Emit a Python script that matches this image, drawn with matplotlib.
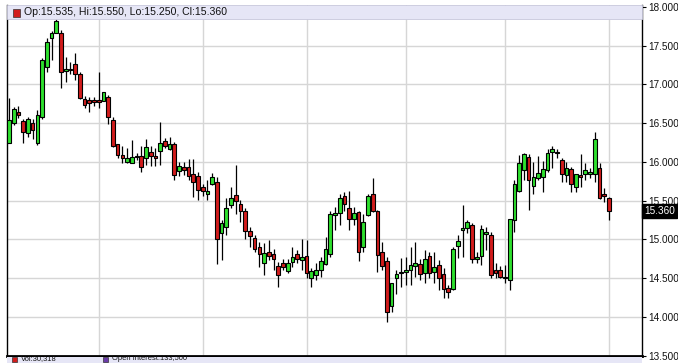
import matplotlib
matplotlib.use("Agg")
import matplotlib.pyplot as plt
from matplotlib.patches import Rectangle
import numpy as np

# daily OHLC (oldest first)
opens = [16.25, 16.50, 16.65, 16.53, 16.37, 16.50, 16.25, 16.58, 17.23, 17.60,
         17.67, 17.67, 17.17, 17.20, 17.26, 17.13, 16.81, 16.80, 16.80, 16.80,
         16.79, 16.84, 16.54, 16.23, 16.09, 16.00, 15.99, 16.08, 16.08, 16.05,
         16.13, 16.07, 16.14, 16.27, 16.17, 16.23, 15.88, 15.93, 15.93, 15.85,
         15.82, 15.68, 15.59, 15.72, 15.74, 15.08, 15.16, 15.44, 15.57, 15.45,
         15.36, 15.11, 15.02, 14.90, 14.69, 14.84, 14.81, 14.65, 14.69, 14.59,
         14.71, 14.81, 14.73, 14.78, 14.50, 14.54, 14.60, 14.68, 14.81, 15.31,
         15.34, 15.56, 15.41, 15.26, 15.35, 14.90, 15.31, 15.59, 15.37, 14.83,
         14.72, 14.14, 14.50, 14.57, 14.58, 14.61, 14.65, 14.68, 14.56, 14.79,
         14.58, 14.67, 14.55, 14.37, 14.36, 14.92, 15.12, 15.15, 15.18, 14.75,
         14.78, 15.07, 15.06, 14.60, 14.60, 14.51, 14.48, 15.25, 15.62, 15.89,
         16.06, 15.69, 15.79, 15.81, 15.90, 16.13, 16.13, 16.02, 15.83, 15.91,
         15.68, 15.83, 15.84, 15.84, 15.85, 15.92, 15.59, 15.535]
highs = [16.82, 16.71, 16.72, 16.56, 16.58, 16.55, 16.67, 17.34, 17.60, 17.69,
         17.84, 17.70, 17.35, 17.29, 17.40, 17.16, 16.85, 16.84, 16.84, 17.16,
         16.90, 16.86, 16.58, 16.23, 16.20, 16.18, 16.28, 16.12, 16.20, 16.29,
         16.20, 16.18, 16.51, 16.31, 16.32, 16.26, 16.00, 16.00, 16.04, 16.04,
         15.87, 15.71, 15.76, 15.86, 15.81, 15.25, 15.53, 15.68, 15.96, 15.51,
         15.40, 15.16, 15.05, 14.97, 14.95, 14.99, 14.88, 14.71, 14.75, 14.75,
         14.90, 14.86, 15.01, 14.99, 14.63, 14.69, 14.77, 15.03, 15.36, 15.42,
         15.59, 15.61, 15.63, 15.42, 15.36, 15.33, 15.59, 15.79, 15.38, 14.97,
         14.77, 14.44, 14.60, 14.76, 14.77, 14.90, 14.96, 14.74, 14.86, 14.84,
         14.84, 14.73, 14.63, 14.41, 14.90, 15.05, 15.44, 15.25, 15.21, 14.83,
         15.18, 15.16, 15.10, 14.69, 14.65, 14.67, 15.26, 15.76, 16.09, 16.11,
         16.10, 16.00, 16.07, 16.01, 16.17, 16.21, 16.17, 16.05, 16.00, 15.94,
         15.85, 16.10, 15.98, 15.92, 16.38, 15.99, 15.66, 15.55]
lows = [16.24, 16.48, 16.57, 16.25, 16.32, 16.30, 16.22, 16.56, 17.16, 17.32,
        17.66, 16.96, 17.03, 17.13, 17.06, 16.81, 16.70, 16.65, 16.72, 16.69,
        16.78, 16.49, 16.19, 16.05, 15.99, 15.98, 15.98, 16.02, 15.87, 15.96,
        15.95, 15.95, 15.96, 16.18, 16.15, 15.76, 15.82, 15.83, 15.76, 15.55,
        15.51, 15.56, 15.51, 15.70, 14.68, 14.73, 15.05, 15.40, 15.33, 15.23,
        15.01, 14.90, 14.83, 14.64, 14.54, 14.73, 14.60, 14.39, 14.60, 14.56,
        14.64, 14.69, 14.60, 14.50, 14.39, 14.47, 14.51, 14.67, 14.77, 15.12,
        15.18, 15.36, 15.12, 15.18, 14.72, 14.84, 15.30, 15.35, 14.58, 14.60,
        13.93, 14.06, 14.30, 14.39, 14.41, 14.41, 14.52, 14.47, 14.43, 14.50,
        14.43, 14.34, 14.24, 14.24, 14.34, 14.76, 14.77, 15.08, 14.69, 14.69,
        14.67, 14.86, 14.50, 14.50, 14.50, 14.43, 14.35, 15.10, 15.61, 15.76,
        15.38, 15.58, 15.77, 15.61, 15.87, 15.92, 16.05, 15.74, 15.74, 15.61,
        15.61, 15.68, 15.77, 15.79, 15.74, 15.52, 15.48, 15.25]
closes = [16.54, 16.68, 16.60, 16.38, 16.55, 16.41, 16.60, 17.32, 17.55, 17.66,
          17.82, 17.16, 17.20, 17.19, 17.14, 16.83, 16.73, 16.76, 16.77, 16.77,
          16.90, 16.58, 16.20, 16.09, 16.05, 16.05, 16.06, 16.06, 15.93, 16.19,
          16.07, 16.05, 16.25, 16.20, 16.23, 15.83, 15.95, 15.89, 15.82, 15.74,
          15.64, 15.63, 15.63, 15.81, 15.01, 15.21, 15.41, 15.53, 15.50, 15.36,
          15.11, 15.04, 14.88, 14.81, 14.82, 14.78, 14.75, 14.54, 14.64, 14.70,
          14.77, 14.74, 14.77, 14.56, 14.59, 14.61, 14.72, 14.87, 15.33, 15.34,
          15.53, 15.45, 15.26, 15.34, 14.84, 15.23, 15.56, 15.36, 14.80, 14.65,
          14.06, 14.43, 14.55, 14.58, 14.61, 14.67, 14.70, 14.55, 14.74, 14.57,
          14.64, 14.50, 14.36, 14.32, 14.88, 14.98, 15.15, 15.22, 14.75, 14.77,
          15.13, 15.10, 14.54, 14.56, 14.51, 14.50, 15.26, 15.71, 15.98, 16.10,
          15.77, 15.81, 15.86, 15.91, 16.12, 16.17, 16.11, 15.84, 15.92, 15.71,
          15.84, 15.81, 15.90, 15.87, 16.30, 15.54, 15.56, 15.36]

month_starts = [19, 41, 63, 84, 105, 127]   # bars where the vertical grid sits
price_ticks = np.arange(13.5, 18.01, 0.5)
legend_text = "Op:15.535, Hi:15.550, Lo:15.250, Cl:15.360"
bottom_text = ["Vol:30,318", "Open Interest:133,500"]

W, H = 678, 363
fig = plt.figure(figsize=(W / 100, H / 100), dpi=100)
fig.patch.set_facecolor("white")

# axes placed in pixels: left 7, right 642, top 5, bottom 355.5
ax = fig.add_axes([7 / W, (H - 355.5) / H, 635 / W, 350.5 / H])
n = len(opens)
x = np.arange(n)
step = 4.724  # px per bar
ax.set_xlim(-2 / step, (642 - 9) / step)
ax.set_ylim(13.5, 18.0 + 2 / 77.4)

for p in price_ticks:
    ax.axhline(p, color="#d6d6d6", lw=1.0, zorder=0)
for m in month_starts:
    ax.axvline(m, color="#d6d6d6", lw=1.0, zorder=0)

o = np.array(opens)
c = np.array(closes)
up = c >= o
ax.vlines(x, lows, highs, color="black", lw=0.9, zorder=2)
body_lo = np.minimum(o, c)
body_h = np.maximum(np.abs(c - o), 0.012)
colors = np.where(up, "#2ee02e", "#d21c1c")
ax.bar(x, body_h, bottom=body_lo, width=0.78, color=colors,
       edgecolor="black", linewidth=0.8, zorder=3)

ax.yaxis.tick_right()
ax.set_yticks(price_ticks)
ax.set_yticklabels(["%.3f" % p for p in price_ticks],
                   fontsize=7.2, family="Liberation Sans", color="#111111")
ax.tick_params(axis="y", direction="out", length=3, width=0.8, pad=1.2)
ax.set_xticks([])

ax.spines["top"].set_visible(False)
ax.spines["left"].set_color("black")
ax.spines["right"].set_color("black")
ax.spines["left"].set_linewidth(1.0)
ax.spines["right"].set_linewidth(1.0)
ax.spines["bottom"].set_linewidth(2.0)
ax.spines["bottom"].set_color("black")

# legend band across the top of the plot
band_h = 14 / 350.5
ax.add_patch(Rectangle((0, 1 - band_h), 1, band_h, transform=ax.transAxes,
                       facecolor="#e6e6f6", edgecolor="#c8c8dc", lw=0.6,
                       zorder=5, clip_on=False))
ax.add_patch(Rectangle((6 / 635, 1 - 12 / 350.5), 7 / 635, 8 / 350.5,
                       transform=ax.transAxes, facecolor="#d21c1c",
                       edgecolor="#333333", lw=0.5, zorder=6, clip_on=False))
ax.text(17 / 635, 1 - 7 / 350.5, legend_text, transform=ax.transAxes,
        fontsize=7.6, family="Liberation Sans", va="center", ha="left",
        color="#111111", zorder=6)

# last price marker on the axis
last = closes[-1]
fig.text(644 / W, (H - 211.3) / H, "%.3f" % last, fontsize=7.2,
         family="Liberation Sans", color="white", va="center", ha="left",
         bbox=dict(boxstyle="square,pad=0.2", facecolor="black",
                   edgecolor="black"))

# bottom band (volume pane header) squeezed under the frame
fig.patches.append(Rectangle((7 / W, 0), 635 / W, (H - 356.5) / H,
                             transform=fig.transFigure, facecolor="#e6e6f6",
                             edgecolor="none", zorder=1))
fig.patches.append(Rectangle((12 / W, 1 / H), 5 / W, 5 / H,
                             transform=fig.transFigure, facecolor="#d21c1c",
                             edgecolor="#333333", lw=0.5, zorder=2))
fig.text(21 / W, 0.5 / H, bottom_text[0], fontsize=5.4,
         family="Liberation Sans", va="bottom", ha="left", color="#111111")
fig.patches.append(Rectangle((103 / W, 1 / H), 5 / W, 5 / H,
                             transform=fig.transFigure, facecolor="#6a3aa8",
                             edgecolor="#333333", lw=0.5, zorder=2))
fig.text(112 / W, 0.5 / H, bottom_text[1], fontsize=5.4,
         family="Liberation Sans", va="bottom", ha="left", color="#111111")

fig.savefig("out.png", dpi=100, facecolor="white")
